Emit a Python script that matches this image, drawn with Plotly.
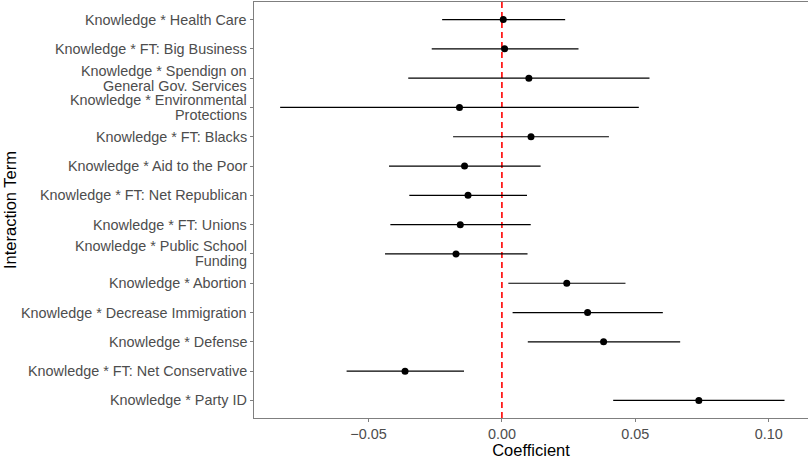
import plotly.graph_objects as go

# Interaction terms, listed top to bottom ("\n" marks a wrapped label)
terms = [
    "Knowledge * Health Care",
    "Knowledge * FT: Big Business",
    "Knowledge * Spendign on\nGeneral Gov. Services",
    "Knowledge * Environmental\nProtections",
    "Knowledge * FT: Blacks",
    "Knowledge * Aid to the Poor",
    "Knowledge * FT: Net Republican",
    "Knowledge * FT: Unions",
    "Knowledge * Public School\nFunding",
    "Knowledge * Abortion",
    "Knowledge * Decrease Immigration",
    "Knowledge * Defense",
    "Knowledge * FT: Net Conservative",
    "Knowledge * Party ID",
]

# Point estimates and 95% confidence bounds
estimate = [0.0005, 0.0010, 0.0101, -0.0159, 0.0109, -0.0140, -0.0127,
            -0.0156, -0.0172, 0.0243, 0.0321, 0.0381, -0.0363, 0.0738]
ci_low = [-0.0224, -0.0263, -0.0351, -0.0831, -0.0183, -0.0423, -0.0347,
          -0.0418, -0.0438, 0.0024, 0.0040, 0.0097, -0.0582, 0.0417]
ci_high = [0.0237, 0.0287, 0.0553, 0.0513, 0.0401, 0.0145, 0.0094,
           0.0108, 0.0096, 0.0463, 0.0603, 0.0668, -0.0142, 0.1059]

err_plus = [h - e for h, e in zip(ci_high, estimate)]
err_minus = [e - l for e, l in zip(estimate, ci_low)]

FONT = "Liberation Sans, Arial, sans-serif"
LABEL_SIZE = 14.4
LINE_GAP = 15  # px between lines of a wrapped label

fig = go.Figure()
fig.add_trace(go.Scatter(
    x=estimate,
    y=terms,
    mode="markers",
    marker=dict(color="black", size=7),
    error_x=dict(type="data", symmetric=False, array=err_plus,
                 arrayminus=err_minus, color="black", thickness=1.2, width=0),
    showlegend=False,
    hoverinfo="skip",
))

# Reference line at zero, beneath the estimates
fig.add_vline(x=0, layer="below", line=dict(color="#FF0000", width=1.6, dash="6px,4px"))

# Term labels drawn line by line so wrapped labels stay tight and centred on their tick
for term in terms:
    lines = term.split("\n")
    n = len(lines)
    for i, line in enumerate(lines):
        fig.add_annotation(
            x=0, xref="paper", y=term, yref="y",
            text=line, showarrow=False,
            xanchor="right", yanchor="middle",
            xshift=-5, yshift=((n - 1) / 2 - i) * LINE_GAP,
            font=dict(family=FONT, size=LABEL_SIZE, color="#4D4D4D"),
        )

# Vertical axis title
fig.add_annotation(
    x=0, xref="paper", y=0.5, yref="paper",
    text="Interaction Term", showarrow=False, textangle=-90,
    xanchor="center", yanchor="middle", xshift=-244,
    font=dict(family=FONT, size=16.5, color="black"),
)

fig.update_layout(
    width=808,
    height=459,
    margin=dict(l=254, r=0, t=2, b=41),
    paper_bgcolor="white",
    plot_bgcolor="white",
    xaxis=dict(
        range=[-0.0929, 0.1147],
        tick0=0,
        dtick=0.05,
        tickformat=".2f",
        showgrid=False,
        zeroline=False,
        showline=True,
        mirror=True,
        linecolor="#7F7F7F",
        linewidth=1.4,
        ticks="outside",
        ticklen=3,
        tickwidth=1.2,
        tickcolor="#7F7F7F",
        tickfont=dict(family=FONT, size=LABEL_SIZE, color="#4D4D4D"),
        title=dict(text="Coefficient", font=dict(family=FONT, size=16.5, color="black"), standoff=6),
    ),
    yaxis=dict(
        type="category",
        categoryorder="array",
        categoryarray=terms,
        range=[13.6, -0.6],
        showgrid=False,
        zeroline=False,
        showline=True,
        linecolor="#7F7F7F",
        linewidth=1.4,
        ticks="outside",
        ticklen=3,
        tickwidth=1.2,
        tickcolor="#7F7F7F",
        showticklabels=False,
    ),
)

fig.write_html("out.html")
